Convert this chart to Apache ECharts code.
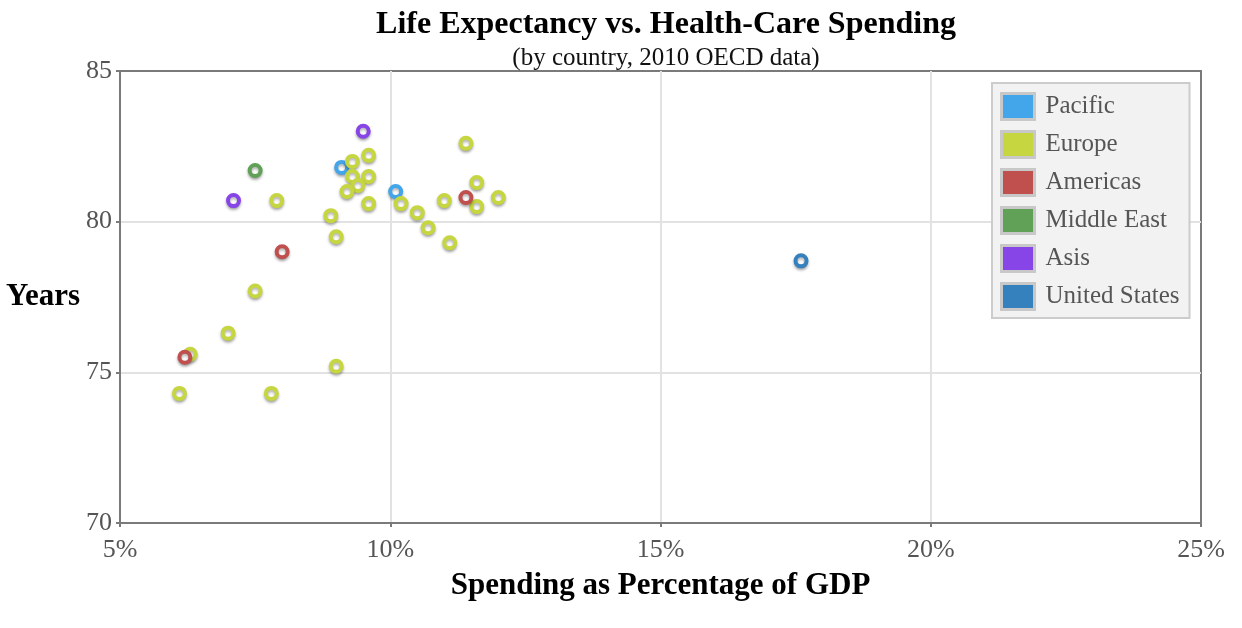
<!DOCTYPE html>
<html>
<head>
<meta charset="utf-8">
<script src="https://cdn.jsdelivr.net/npm/echarts@6/dist/echarts.min.js"></script>
<style>
html,body{margin:0;padding:0;background:#fff;}
#chart{width:1242px;height:628px;}
</style>
</head>
<body>
<div id="chart"></div>
<script>
// Data: [spending % of GDP, life expectancy years]
const regionNames = ['Pacific', 'Europe', 'Americas', 'Middle East', 'Asis', 'United States'];
const regionColors = ['#43a5ea', '#c6d640', '#bf504d', '#60a157', '#8744e7', '#3581be'];
const pacific = [[9.1, 81.8], [10.1, 81.0]];
const europe = [
  [9.3, 82.0], [9.6, 82.2], [9.3, 81.5], [9.6, 81.5], [9.4, 81.2], [9.2, 81.0],
  [9.6, 80.6], [8.9, 80.2], [9.0, 79.5], [7.9, 80.7], [7.5, 77.7], [7.0, 76.3],
  [6.3, 75.6], [6.1, 74.3], [7.8, 74.3], [9.0, 75.2], [10.2, 80.6], [10.5, 80.3],
  [10.7, 79.8], [11.0, 80.7], [11.1, 79.3], [11.4, 82.6], [11.6, 81.3], [11.6, 80.5],
  [12.0, 80.8]
];
const americas = [[6.2, 75.5], [8.0, 79.0], [11.4, 80.8]];
const middleEast = [[7.5, 81.7]];
const asia = [[7.1, 80.7], [9.5, 83.0]];
const unitedStates = [[17.6, 78.7]];
const seriesData = [pacific, europe, americas, middleEast, asia, unitedStates];
const xTicks = [5, 10, 15, 20, 25];
const yTicks = [70, 75, 80, 85];

const serif = '"Liberation Serif", "DejaVu Serif", serif';
const chart = echarts.init(document.getElementById('chart'), null, {renderer: 'canvas'});

const series = regionNames.map((name, i) => ({
  name: name,
  type: 'scatter',
  data: seriesData[i],
  symbol: 'circle',
  symbolSize: 11,
  color: regionColors[i],
  itemStyle: {
    color: '#ffffff',
    opacity: 1,
    borderColor: regionColors[i],
    borderWidth: 4,
    shadowColor: 'rgba(0,0,0,0.3)',
    shadowBlur: 3,
    shadowOffsetY: 2
  },
  emphasis: {disabled: true}
}));

chart.setOption({
  animation: false,
  backgroundColor: '#ffffff',
  title: [{
    text: 'Life Expectancy vs. Health-Care Spending',
    left: 661, top: 4, textAlign: 'center',
    textStyle: {fontFamily: serif, fontSize: 32, fontWeight: 'bold', color: '#000'}
  }, {
    text: '(by country, 2010 OECD data)',
    left: 661, top: 41, textAlign: 'center',
    textStyle: {fontFamily: serif, fontSize: 25, fontWeight: 'normal', color: '#111'}
  }],
  legend: {
    orient: 'vertical',
    left: 992, top: 83,
    padding: [9, 10, 7, 8],
    itemGap: 9,
    itemWidth: 33, itemHeight: 26,
    icon: 'rect',
    backgroundColor: '#f2f2f2',
    borderColor: '#cccccc',
    borderWidth: 2,
    data: regionNames.map((n, i) => ({name: n, itemStyle: {color: regionColors[i], opacity: 1, borderColor: '#c8c8c8', borderWidth: 3}})),
    textStyle: {fontFamily: serif, fontSize: 25, lineHeight: 26, color: '#555555', padding: [0, 0, 0, 6]}
  },
  grid: {
    left: 120, right: 41, top: 71, bottom: 105,
    show: true, borderColor: '#7a7a7a', borderWidth: 2, backgroundColor: 'transparent'
  },
  xAxis: {
    type: 'value', min: 5, max: 25, interval: 5,
    name: 'Spending as Percentage of GDP',
    nameLocation: 'middle', nameGap: 47,
    nameTextStyle: {fontFamily: serif, fontSize: 31, fontWeight: 'bold', color: '#000', verticalAlign: 'top'},
    axisLine: {show: true, lineStyle: {color: '#7a7a7a', width: 2}},
    axisTick: {show: true, length: 4, lineStyle: {color: '#7a7a7a', width: 2}},
    axisLabel: {fontFamily: serif, fontSize: 26, color: '#555555', margin: 14, formatter: v => xTicks.includes(v) ? v + '%' : ''},
    splitLine: {show: true, showMinLine: false, showMaxLine: false, lineStyle: {color: '#e2e2e2', width: 2}}
  },
  yAxis: {
    type: 'value', min: 70, max: 85, interval: 5,
    name: 'Years',
    nameLocation: 'middle', nameGap: 40, nameRotate: 0,
    nameTextStyle: {fontFamily: serif, fontSize: 31, fontWeight: 'bold', color: '#000'},
    axisLine: {show: true, lineStyle: {color: '#7a7a7a', width: 2}},
    axisTick: {show: true, length: 4, lineStyle: {color: '#7a7a7a', width: 2}},
    axisLabel: {fontFamily: serif, fontSize: 26, color: '#555555', margin: 8, formatter: v => yTicks.includes(v) ? String(v) : ''},
    splitLine: {show: true, showMinLine: false, showMaxLine: false, lineStyle: {color: '#e2e2e2', width: 2}}
  },
  series: series
});
</script>
</body>
</html>
